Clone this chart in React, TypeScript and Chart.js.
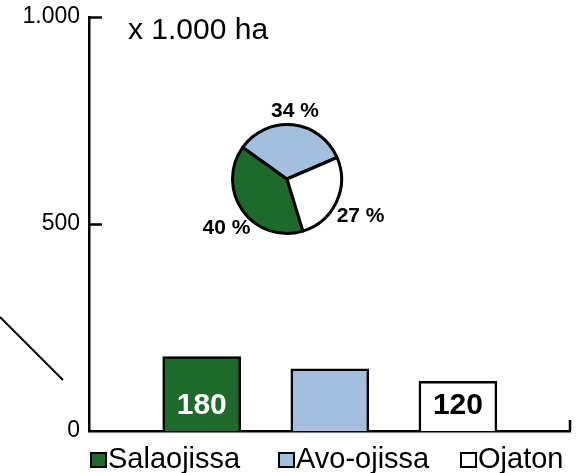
import React, { useEffect, useRef } from 'react';
import { Chart, registerables } from 'chart.js';

Chart.register(...registerables);

// ---- data ----
const categories = ['Salaojissa', 'Avo-ojissa', 'Ojaton'];
const areaValues = [180, 150, 120]; // x 1.000 ha
const showValueLabel = [true, false, true];
const shareValues = [40, 34, 27]; // %
const yTickValues = [0, 500, 1000];
const yTickLabels = ['0', '500', '1.000'];
const unitTitle = 'x 1.000 ha';

// ---- styles ----
const GREEN = '#1d6a2c';
const BLUE = '#a4bedd';
const WHITE = '#ffffff';
const fillColors = [GREEN, BLUE, WHITE];
const valueTextColors = ['#ffffff', '#000000', '#000000'];
const FONT = '"Liberation Sans", Arial, Helvetica, sans-serif';

const decorPlugin = {
  id: 'decor',
  afterDraw(chart: any) {
    const { ctx, chartArea } = chart;
    const y = chart.scales.y;
    ctx.save();
    ctx.strokeStyle = '#000';
    ctx.lineWidth = 2.5;
    // inward y ticks
    yTickValues.forEach((v) => {
      if (v === 0) return;
      const py = Math.round(y.getPixelForValue(v)) + 0.5;
      ctx.beginPath();
      ctx.moveTo(chartArea.left - 1, py);
      ctx.lineTo(chartArea.left + 13, py);
      ctx.stroke();
    });
    // right end tick of x axis
    ctx.beginPath();
    ctx.moveTo(chartArea.right, chartArea.bottom);
    ctx.lineTo(chartArea.right, chartArea.bottom - 11);
    ctx.stroke();
    // leader line on the left
    ctx.lineWidth = 2;
    ctx.beginPath();
    ctx.moveTo(0, 317);
    ctx.lineTo(63, 380);
    ctx.stroke();
    // unit title
    ctx.fillStyle = '#000';
    ctx.font = `30px ${FONT}`;
    ctx.textAlign = 'left';
    ctx.textBaseline = 'alphabetic';
    ctx.fillText(unitTitle, 128, 39);
    // value labels in bars
    const meta = chart.getDatasetMeta(0);
    ctx.font = `bold 30px ${FONT}`;
    ctx.textAlign = 'center';
    ctx.textBaseline = 'middle';
    meta.data.forEach((el: any, i: number) => {
      if (!showValueLabel[i]) return;
      ctx.fillStyle = valueTextColors[i];
      ctx.fillText(String(areaValues[i]), el.x, chartArea.bottom - 25);
    });
    // legend
    const boxX = [90, 278, 460];
    ctx.font = `29px ${FONT}`;
    ctx.textAlign = 'left';
    ctx.textBaseline = 'alphabetic';
    categories.forEach((c, i) => {
      ctx.fillStyle = fillColors[i];
      ctx.fillRect(boxX[i], 452, 17, 16);
      ctx.lineWidth = 2;
      ctx.strokeStyle = '#000';
      ctx.strokeRect(boxX[i] + 1, 453, 15, 14);
      ctx.fillStyle = '#000';
      ctx.fillText(c, boxX[i] + 18, 468);
    });
    ctx.restore();
  },
};

const pieLabelPlugin = {
  id: 'pieLabels',
  afterDraw(chart: any) {
    const { ctx } = chart;
    const meta = chart.getDatasetMeta(0);
    ctx.save();
    ctx.fillStyle = '#000';
    ctx.font = `bold 21px ${FONT}`;
    ctx.textAlign = 'center';
    ctx.textBaseline = 'middle';
    meta.data.forEach((arc: any, i: number) => {
      const p = arc.getProps(['x', 'y', 'startAngle', 'endAngle', 'outerRadius'], true);
      const mid = (p.startAngle + p.endAngle) / 2;
      const d = p.outerRadius + 20;
      const cx = Math.cos(mid);
      ctx.fillText(`${shareValues[i]} %`, p.x + cx * d + (cx > 0.5 ? 6 : 0), p.y + Math.sin(mid) * d + 6);
    });
    ctx.restore();
  },
};

export default function App() {
  const barRef = useRef<HTMLCanvasElement>(null);
  const pieRef = useRef<HTMLCanvasElement>(null);

  useEffect(() => {
    const bar = new Chart(barRef.current as HTMLCanvasElement, {
      type: 'bar',
      data: {
        datasets: [
          {
            data: areaValues.map((v, i) => ({ x: i + 1, y: v })),
            backgroundColor: fillColors,
            borderColor: '#000',
            borderWidth: 2.5,
            barThickness: 78,
          },
        ],
      },
      options: {
        animation: false,
        responsive: false,
        events: [],
        layout: { padding: { top: 17, right: 12, left: 0, bottom: 0 } },
        plugins: { legend: { display: false }, tooltip: { enabled: false } },
        scales: {
          x: {
            type: 'linear',
            offset: false,
            min: 0.12,
            max: 3.875,
            ticks: { display: false },
            grid: { display: false },
            border: { color: '#000', width: 2.5 },
            afterFit: (s: any) => {
              s.height = 42;
              s.paddingLeft = 0;
              s.paddingRight = 0;
            },
          },
          y: {
            min: 0,
            max: 1000,
            afterBuildTicks: (s: any) => {
              s.ticks = yTickValues.map((v) => ({ value: v }));
            },
            ticks: {
              callback: (v: any) => yTickLabels[yTickValues.indexOf(Number(v))],
              font: { family: FONT, size: 23 },
              color: '#000',
              padding: 1,
            },
            grid: { display: false },
            border: { color: '#000', width: 2.5 },
            afterFit: (s: any) => {
              s.width = 89;
              s.paddingTop = 0;
              s.paddingBottom = 0;
            },
          },
        },
      } as any,
      plugins: [decorPlugin],
    });

    const pie = new Chart(pieRef.current as HTMLCanvasElement, {
      type: 'pie',
      data: {
        labels: categories,
        datasets: [
          {
            data: shareValues,
            backgroundColor: fillColors,
            borderColor: '#000',
            borderWidth: 3,
          },
        ],
      },
      options: {
        animation: false,
        responsive: false,
        events: [],
        rotation: 163,
        layout: { padding: { left: 64, right: 64, top: 44, bottom: 44 } },
        plugins: { legend: { display: false }, tooltip: { enabled: false } },
      } as any,
      plugins: [pieLabelPlugin],
    });

    return () => {
      bar.destroy();
      pie.destroy();
    };
  }, []);

  return (
    <div style={{ position: 'fixed', left: 0, top: 0, width: 582, height: 473, background: '#fff' }}>
      <canvas ref={barRef} width={582} height={473} style={{ position: 'absolute', left: 0, top: 0, width: 582, height: 473 }} />
      <canvas ref={pieRef} width={240} height={200} style={{ position: 'absolute', left: 167, top: 79, width: 240, height: 200 }} />
    </div>
  );
}
